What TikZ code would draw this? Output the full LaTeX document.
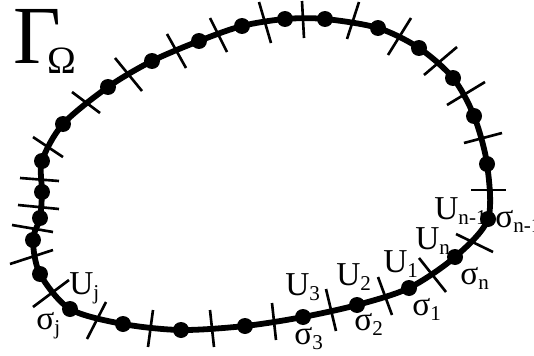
\documentclass[tikz,border=0pt]{standalone}
\usepackage{fontspec}
\setmainfont{Liberation Serif}
\usetikzlibrary{calc}

% letter with a lowered index
\newcommand{\subl}[2]{#1\raisebox{-3.4pt}{\fontsize{12}{12}\selectfont #2}}

\begin{document}
\begin{tikzpicture}[
    x=0.02cm, y=-0.02cm,
    curve/.style={line width=3.3pt, line join=round},
    tickline/.style={line width=1.5pt},
    dot/.style={circle, fill=black, inner sep=0pt, minimum size=0.32cm},
    lbl/.style={anchor=base west, inner sep=0pt, font=\fontsize{19}{19}\selectfont}
]
    \useasboundingbox (0,0) rectangle (534,355);

    % Points of the boundary
    \foreach \x/\y [count=\i] in {70/309, 123/324, 181/330, 245/326, 303/317,
        357/305, 409/288, 455/257, 488/219, 487/164, 474/116, 453/78, 419/48,
        378/28, 325/19, 285/19, 242/26, 199/41, 152/61, 108/87, 63/124,
        42/161, 42/192, 40/218, 33/240, 40/274}
        \coordinate (p\i) at (\x,\y);

    % Draw boundary
    \draw [curve] plot [smooth cycle] coordinates {(p1) (p2) (p3) (p4) (p5)
        (p6) (p7) (p8) (p9) (p10) (p11) (p12) (p13) (p14) (p15) (p16) (p17)
        (p18) (p19) (p20) (p21) (p22) (p23) (p24) (p25) (p26)};

    % Draw panel ends
    \foreach \ax/\ay/\bx/\by in {87/339/106/302, 148/347/153/310,
        210/310/214/347, 272/303/276/340, 326/289/336/331, 378/277/392/315,
        419/258/446/292, 456/234/493/252, 471/190/506/190, 464/143/502/133,
        447/105/485/82, 424/75/457/47, 388/55/411/18, 347/39/359/2,
        302/1/304/38, 259/2/271/43, 210/18/227/52, 167/34/186/68,
        115/58/142/91, 72/92/100/113, 33/137/63/157, 20/178/59/181,
        18/205/59/209, 12/225/53/232, 10/264/53/250, 33/307/69/280}
        \draw [tickline] (\ax,\ay) -- (\bx,\by);

    % Draw nodes
    \foreach \i in {1,...,26}
        \node (d\i) [dot] at (p\i) {};

    % Labels
    \node (gamma) [anchor=base west, inner sep=0pt, font=\fontsize{47}{47}\selectfont]
        at (13,63) {Γ\kern-8pt\raisebox{-5.7pt}{\fontsize{22}{22}\selectfont Ω}};
    \node (uj) [lbl] at (69,294) {\subl{U}{j}};
    \node (sj) [lbl] at (36,329) {\subl{σ}{j}};
    \node (u3) [lbl] at (285,295) {\subl{U}{3}};
    \node (s3) [lbl] at (294,344) {\subl{σ}{3}};
    \node (u2) [lbl] at (336,285) {\subl{U}{2}};
    \node (s2) [lbl] at (354,330) {\subl{σ}{2}};
    \node (u1) [lbl] at (383,272) {\subl{U}{1}};
    \node (s1) [lbl] at (412,315) {\subl{σ}{1}};
    \node (un) [lbl] at (415,249) {\subl{U}{n}};
    \node (sn) [lbl] at (460,284) {\subl{σ}{n}};
    \node (un1) [lbl] at (434,219) {\subl{U}{n-1}};
    \node (sn1) [lbl] at (495,227) {\subl{σ}{n-1}};
\end{tikzpicture}
\end{document}
